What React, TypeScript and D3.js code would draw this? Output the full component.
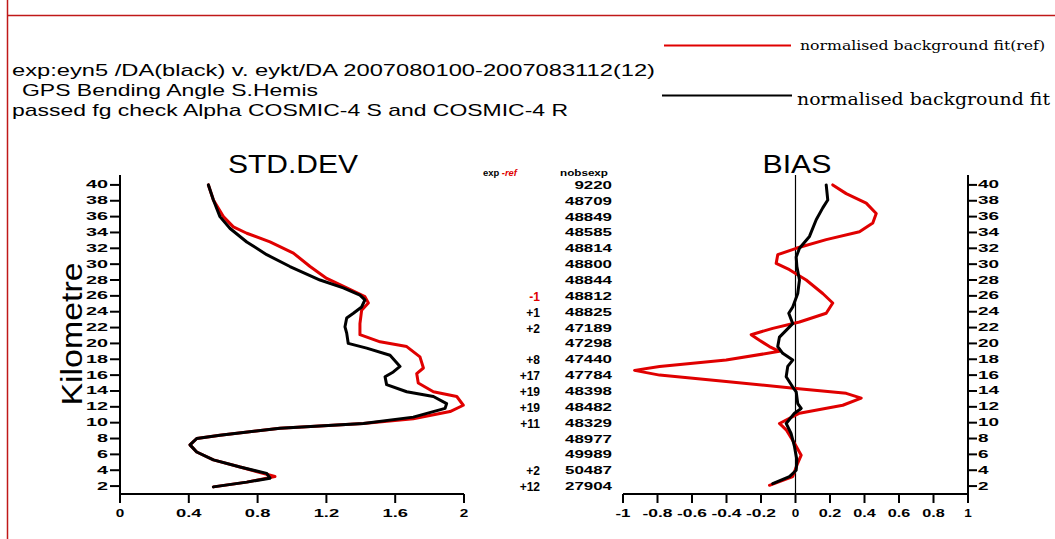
import React from "react";
import * as d3 from "d3";

// Altitude levels (km) labelled on the vertical axes, top to bottom
const levels = [40, 38, 36, 34, 32, 30, 28, 26, 24, 22, 20, 18, 16, 14, 12, 10, 8, 6, 4, 2];

// Observation counts for the experiment at each level
const nobsExp = [
  "9220", "48709", "48849", "48585", "48814", "48800", "48844", "48812", "48825", "47189",
  "47298", "47440", "47784", "48398", "48482", "48329", "48977", "49989", "50487", "27904",
];

// exp - ref count differences (blank where equal)
const expMinusRef = ["", "", "", "", "", "", "", "-1", "+1", "+2", "", "+8", "+17", "+19", "+19", "+11", "", "", "+2", "+12"];

const stdTicks = [0, 0.4, 0.8, 1.2, 1.6, 2];
const stdTickLabels = ["0", "0.4", "0.8", "1.2", "1.6", "2"];
const biasTicks = [-1, -0.8, -0.6, -0.4, -0.2, 0, 0.2, 0.4, 0.6, 0.8, 1];
const biasTickLabels = ["-1", "-0.8", "-0.6", "-0.4", "-0.2", "0", "0.2", "0.4", "0.6", "0.8", "1"];

// [km, value] profiles
const stdExp: [number, number][] = [
  [40.0, 0.514], [38.1, 0.543], [36.0, 0.581], [34.5, 0.64], [32.8, 0.737], [31.2, 0.853],
  [29.7, 0.988], [28.0, 1.163], [27.0, 1.298], [26.1, 1.395], [25.5, 1.424], [24.6, 1.405],
  [23.8, 1.357], [23.2, 1.318], [22.1, 1.308], [21.3, 1.318], [20.0, 1.327], [19.4, 1.434],
  [18.5, 1.57], [17.1, 1.628], [16.4, 1.589], [15.8, 1.541], [14.8, 1.55], [13.9, 1.667],
  [13.3, 1.822], [12.4, 1.899], [11.8, 1.89], [10.7, 1.705], [9.9, 1.415], [9.3, 0.93],
  [8.4, 0.581], [8.0, 0.446], [7.2, 0.407], [6.3, 0.446], [5.3, 0.543], [4.4, 0.698],
  [3.6, 0.853], [3.0, 0.872], [2.5, 0.737], [1.9, 0.543],
];

const stdRef: [number, number][] = [
  [40.0, 0.514], [38.1, 0.543], [36.0, 0.601], [34.7, 0.659], [33.9, 0.737], [32.8, 0.872],
  [31.4, 1.008], [29.7, 1.105], [28.2, 1.202], [27.0, 1.318], [25.9, 1.424], [25.1, 1.444],
  [24.2, 1.405], [22.5, 1.395], [21.1, 1.395], [20.2, 1.512], [19.6, 1.667], [18.3, 1.744],
  [16.9, 1.764], [16.2, 1.725], [15.0, 1.734], [13.9, 1.822], [13.3, 1.958], [12.2, 1.996],
  [11.4, 1.919], [10.5, 1.705], [9.9, 1.415], [9.3, 0.93], [8.4, 0.581], [8.0, 0.446],
  [7.2, 0.407], [6.3, 0.446], [5.3, 0.543], [4.4, 0.698], [3.2, 0.901], [2.5, 0.737], [1.9, 0.543],
];

const biasExp: [number, number][] = [
  [40.0, 0.178], [38.1, 0.187], [37.1, 0.158], [35.6, 0.12], [33.5, 0.081], [32.0, 0.023],
  [30.9, 0.004], [29.7, 0.008], [28.0, 0.023], [26.3, 0.013], [24.6, -0.016], [23.8, -0.039],
  [22.5, -0.016], [20.8, -0.093], [19.6, -0.103], [18.75, -0.074], [17.9, -0.016], [17.1, -0.045],
  [15.8, -0.054], [14.5, -0.016], [13.9, 0.004], [12.4, 0.013], [11.8, 0.033], [11.2, -0.006],
  [9.9, -0.054], [8.6, -0.025], [7.0, -0.006], [5.3, 0.008], [4.0, 0.004], [3.2, -0.035], [2.3, -0.132],
];

const biasRef: [number, number][] = [
  [40.0, 0.216], [38.9, 0.294], [37.7, 0.41], [36.4, 0.468], [35.2, 0.448], [34.1, 0.371],
  [33.1, 0.178], [32.0, 0.004], [31.2, -0.103], [30.1, -0.112], [29.3, -0.035], [28.0, 0.062],
  [26.3, 0.158], [25.1, 0.216], [23.8, 0.178], [22.7, 0.023], [21.9, -0.132], [21.1, -0.257],
  [20.4, -0.209], [19.6, -0.151], [19.0, -0.093], [17.9, -0.402], [17.1, -0.788], [16.6, -0.933],
  [16.0, -0.788], [15.2, -0.402], [14.3, 0.004], [13.7, 0.294], [13.1, 0.381], [12.2, 0.274],
  [11.2, 0.023], [9.9, -0.093], [9.1, -0.054], [7.4, -0.006], [5.9, 0.033], [4.9, 0.013],
  [3.2, -0.016], [2.1, -0.151],
];

const RED = "#e00000";
const tickFont = "'Liberation Sans', Arial, sans-serif";

export default function App() {
  const y = d3.scaleLinear().domain([1, 41.25]).range([494, 175]);
  const xStd = d3.scaleLinear().domain([0, 2]).range([120, 464]);
  const xBias = d3.scaleLinear().domain([-1, 1]).range([623, 968]);

  const stdLine = d3.line<[number, number]>().x((d) => xStd(d[1])).y((d) => y(d[0]));
  const biasLine = d3.line<[number, number]>().x((d) => xBias(d[1])).y((d) => y(d[0]));

  const axisY = y.range()[0];
  const topY = y.range()[1];

  return (
    <svg
      width={1055}
      height={539}
      style={{ position: "absolute", left: 0, top: 0, background: "#fff" }}
      fontFamily={tickFont}
    >
      <rect width={1055} height={539} fill="#fff" />
      {/* page frame */}
      <line x1={7.5} y1={0} x2={7.5} y2={539} stroke="#c01818" strokeWidth={1.5} />
      <line x1={7} y1={15.5} x2={1055} y2={15.5} stroke="#c01818" strokeWidth={1.5} />

      {/* header text */}
      <g fontSize={17} fill="#000">
        <text x={12} y={76} textLength={643} lengthAdjust="spacingAndGlyphs">
          exp:eyn5 /DA(black)  v. eykt/DA 2007080100-2007083112(12)
        </text>
        <text x={22} y={96} textLength={296} lengthAdjust="spacingAndGlyphs">
          GPS Bending Angle   S.Hemis
        </text>
        <text x={12} y={116} textLength={556} lengthAdjust="spacingAndGlyphs">
          passed fg check Alpha COSMIC-4 S and COSMIC-4 R
        </text>
      </g>

      {/* legend */}
      <line x1={664} y1={45.5} x2={791} y2={45.5} stroke={RED} strokeWidth={2} />
      <text x={800} y={50} fontSize={12} fontFamily="'DejaVu Serif', serif"
        textLength={245} lengthAdjust="spacingAndGlyphs">
        normalised background fit(ref)
      </text>
      <line x1={662} y1={95.5} x2={792} y2={95.5} stroke="#000" strokeWidth={2} />
      <text x={797} y={105} fontSize={16} fontFamily="'DejaVu Serif', serif"
        textLength={253} lengthAdjust="spacingAndGlyphs">
        normalised background fit
      </text>

      {/* panel titles */}
      <text x={293} y={173} fontSize={25} textAnchor="middle" textLength={130} lengthAdjust="spacingAndGlyphs">
        STD.DEV
      </text>
      <text x={797} y={173} fontSize={25} textAnchor="middle" textLength={69} lengthAdjust="spacingAndGlyphs">
        BIAS
      </text>
      <text
        transform="translate(82,334) rotate(-90)"
        fontSize={29}
        textAnchor="middle"
        textLength={143}
        lengthAdjust="spacingAndGlyphs"
      >
        Kilometre
      </text>

      {/* column headers */}
      <text x={483} y={176} fontSize={9} fontWeight="bold" textLength={34} lengthAdjust="spacingAndGlyphs">
        exp <tspan fill={RED} fontStyle="italic">-ref</tspan>
      </text>
      <text x={560} y={176} fontSize={9} fontWeight="bold" textLength={48} lengthAdjust="spacingAndGlyphs">
        nobsexp
      </text>

      {/* STD.DEV axes */}
      <line x1={120} y1={topY} x2={120} y2={axisY + 9} stroke="#000" strokeWidth={2} />
      <line x1={120} y1={axisY} x2={xStd(2)} y2={axisY} stroke="#000" strokeWidth={2} />
      {levels.map((l) => (
        <g key={"ly" + l}>
          <line x1={110} x2={120} y1={y(l)} y2={y(l)} stroke="#000" strokeWidth={2} />
          <text x={108} y={y(l) + 3.5} fontSize={10} fontWeight="bold" textAnchor="end"
            textLength={String(l).length * 11} lengthAdjust="spacingAndGlyphs">
            {l}
          </text>
        </g>
      ))}
      {stdTicks.map((t, i) => (
        <g key={"sx" + t}>
          <line x1={xStd(t)} x2={xStd(t)} y1={axisY} y2={axisY + 9} stroke="#000" strokeWidth={2} />
          <text x={xStd(t)} y={517} fontSize={11} fontWeight="bold" textAnchor="middle"
            textLength={stdTickLabels[i].length * 8.5} lengthAdjust="spacingAndGlyphs">
            {stdTickLabels[i]}
          </text>
        </g>
      ))}

      {/* middle columns */}
      {levels.map((l, i) => (
        <g key={"col" + l}>
          <text x={612} y={y(l) + 4} fontSize={10} fontWeight="bold" textAnchor="end"
            textLength={nobsExp[i].length * 9.4} lengthAdjust="spacingAndGlyphs">
            {nobsExp[i]}
          </text>
          {expMinusRef[i] && (
            <text x={540} y={y(l) + 5} fontSize={12} fontWeight="bold" textAnchor="end"
              fill={expMinusRef[i].startsWith("-") ? RED : "#000"}>
              {expMinusRef[i]}
            </text>
          )}
        </g>
      ))}

      {/* BIAS axes */}
      <line x1={xBias(-1)} y1={axisY} x2={xBias(1)} y2={axisY} stroke="#000" strokeWidth={2} />
      <line x1={xBias(1)} y1={topY} x2={xBias(1)} y2={axisY + 9} stroke="#000" strokeWidth={2} />
      <line x1={xBias(0)} y1={topY} x2={xBias(0)} y2={axisY} stroke="#000" strokeWidth={1.2} />
      {levels.map((l) => (
        <g key={"ry" + l}>
          <line x1={xBias(1)} x2={xBias(1) + 9} y1={y(l)} y2={y(l)} stroke="#000" strokeWidth={2} />
          <text x={978} y={y(l) + 3.5} fontSize={10} fontWeight="bold"
            textLength={String(l).length * 10.5} lengthAdjust="spacingAndGlyphs">
            {l}
          </text>
        </g>
      ))}
      {biasTicks.map((t, i) => (
        <g key={"bx" + t}>
          <line x1={xBias(t)} x2={xBias(t)} y1={axisY} y2={axisY + 9} stroke="#000" strokeWidth={2} />
          <text x={xBias(t)} y={517} fontSize={11} fontWeight="bold" textAnchor="middle"
            textLength={biasTickLabels[i].length * 7.5} lengthAdjust="spacingAndGlyphs">
            {biasTickLabels[i]}
          </text>
        </g>
      ))}

      {/* profiles */}
      <g fill="none" strokeWidth={3} strokeLinejoin="round" strokeLinecap="round">
        <path d={stdLine(stdRef) || ""} stroke={RED} />
        <path d={stdLine(stdExp) || ""} stroke="#000" />
        <path d={biasLine(biasRef) || ""} stroke={RED} />
        <path d={biasLine(biasExp) || ""} stroke="#000" />
      </g>
    </svg>
  );
}
